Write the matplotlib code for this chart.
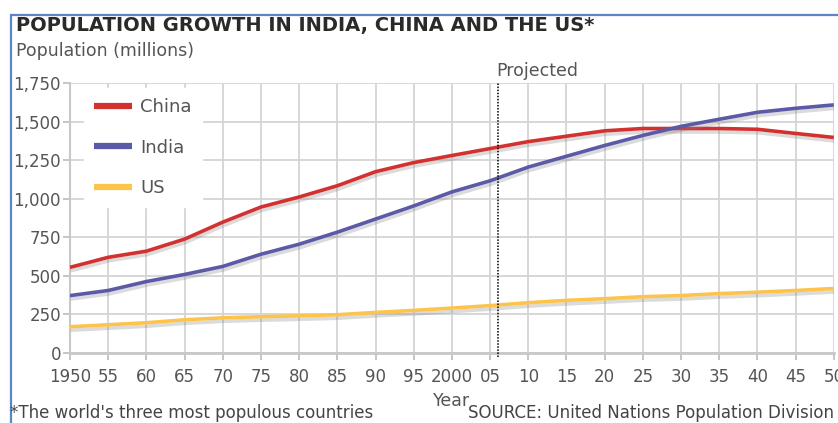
import matplotlib.pyplot as plt
import matplotlib.patheffects as pe
from matplotlib.patches import Rectangle

plt.rcParams['font.family'] = ['DejaVu Sans']

# dados (milhoes)
anos = [1950, 1955, 1960, 1965, 1970, 1975, 1980, 1985, 1990, 1995, 2000,
        2005, 2010, 2015, 2020, 2025, 2030, 2035, 2040, 2045, 2050]
china = [555, 620, 660, 738, 848, 946, 1011, 1084, 1175, 1234, 1280,
         1325, 1370, 1405, 1440, 1455, 1455, 1455, 1450, 1423, 1397]
india = [372, 405, 463, 509, 561, 640, 705, 783, 868, 953, 1044,
         1116, 1205, 1275, 1345, 1410, 1469, 1515, 1560, 1586, 1608]
eua = [170, 183, 196, 215, 228, 235, 241, 248, 263, 276, 291,
       307, 326, 341, 352, 365, 372, 385, 394, 405, 418]
ano_projecao = 2006
xticks = list(range(1950, 2051, 5))
xlabels = ['1950', '55', '60', '65', '70', '75', '80', '85', '90', '95', '2000',
           '05', '10', '15', '20', '25', '30', '35', '40', '45', '50']
yticks = [0, 250, 500, 750, 1000, 1250, 1500, 1750]

fig = plt.figure(figsize=(8.38, 4.23), dpi=100)
ax = fig.add_axes([0.0835, 0.1655, 0.9115, 0.6383])

sombra = [pe.SimpleLineShadow(offset=(0.5, -2.5), shadow_color='#888888', alpha=0.3),
          pe.Normal()]
ax.plot(anos, china, color='#d33030', linewidth=2.6, label='China',
        solid_capstyle='butt', path_effects=sombra, zorder=4)
ax.plot(anos, india, color='#5a5aa6', linewidth=2.6, label='India',
        solid_capstyle='butt', path_effects=sombra, zorder=4)
ax.plot(anos, eua, color='#fcc44c', linewidth=2.6, label='US',
        solid_capstyle='butt', path_effects=sombra, zorder=4)

ax.axvline(ano_projecao, ymin=-0.015, ymax=1, color='black', linestyle=(0, (1.0, 1.0)),
           linewidth=1.1, zorder=5, clip_on=False)
ax.text(ano_projecao - 0.2, 1795, 'Projected', fontsize=12.5, color='#555555',
        ha='left', va='baseline')

ax.set_xlim(1950, 2050)
ax.set_ylim(0, 1750)
ax.set_xticks(xticks)
ax.set_xticklabels(xlabels)
ax.set_yticks(yticks)
ax.set_yticklabels([f'{v:,}' for v in yticks])
ax.grid(True, color='#d4d4d4', linewidth=1.3, zorder=0)
ax.set_axisbelow(True)
for lado in ['top', 'right']:
    ax.spines[lado].set_visible(False)
ax.spines['left'].set_color('#c8c8c8')
ax.spines['left'].set_linewidth(1.5)
ax.spines['bottom'].set_color('#c8c8c8')
ax.spines['bottom'].set_linewidth(2.0)
ax.tick_params(axis='both', colors='#bbbbbb', labelcolor='#555555', labelsize=12,
               width=1.2)
ax.tick_params(axis='x', length=5, pad=5.5)
ax.tick_params(axis='y', length=5, pad=1.5)
ax.set_xlabel('Year', fontsize=12.5, color='#555555')
ax.xaxis.set_label_coords(0.5, -0.145)

leg = ax.legend(loc='upper left', bbox_to_anchor=(0.019, 0.981), frameon=True,
                fontsize=13, handlelength=2.1, labelspacing=1.25,
                borderpad=0.55, handletextpad=0.45, fancybox=False,
                borderaxespad=0)
leg.get_frame().set_facecolor('white')
leg.get_frame().set_edgecolor('white')
leg.get_frame().set_alpha(1)
for linha in leg.get_lines():
    linha.set_linewidth(4.5)
    linha.set_path_effects([])
for t in leg.get_texts():
    t.set_color('#555555')

fig.text(0.019, 0.9267, 'POPULATION GROWTH IN INDIA, CHINA AND THE US*',
         fontsize=14, fontweight='bold', color='#2a2a2a', va='baseline')
fig.text(0.019, 0.868, 'Population (millions)', fontsize=12.5, color='#555555',
         va='baseline')
fig.text(0.012, 0.012, "*The world's three most populous countries", fontsize=12,
         color='#444444', va='baseline')
fig.text(0.558, 0.012, 'SOURCE: United Nations Population Division', fontsize=12,
         color='#444444', va='baseline')

moldura = Rectangle((0.013, -0.1), 1.1, 1.065, transform=fig.transFigure,
                    fill=False, edgecolor='#5a86c8', linewidth=1.6, clip_on=False)
fig.patches.append(moldura)

fig.savefig('out.png', dpi=100)
